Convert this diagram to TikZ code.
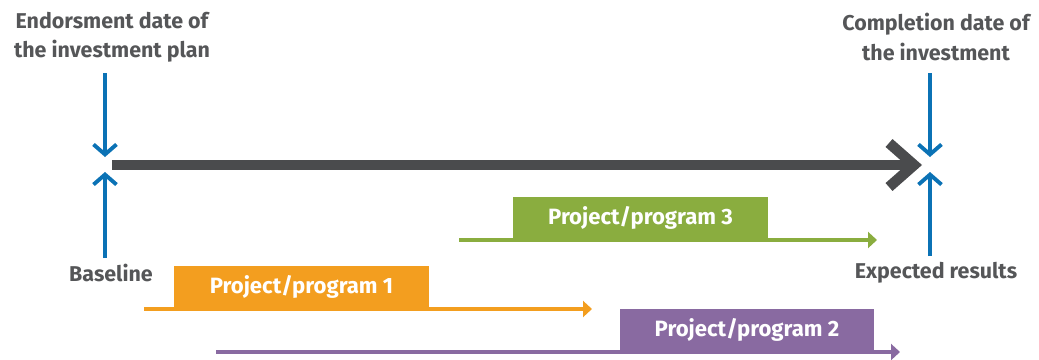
\documentclass[tikz,border=0pt]{standalone}
\usepackage{fontspec}
\setmainfont{Fira Sans}
\usetikzlibrary{arrows.meta}
\definecolor{mblue}{RGB}{11,114,181}
\definecolor{mdark}{RGB}{74,75,77}
\definecolor{mtext}{RGB}{85,86,88}
\definecolor{mgreen}{RGB}{138,173,63}
\definecolor{morange}{RGB}{243,158,31}
\definecolor{mpurple}{RGB}{137,106,161}
\tikzset{
  lbl/.style={text=mtext, font=\bfseries\fontsize{12.2}{16.8}\selectfont, align=center},
  marker/.style={draw=mblue, line width=2.2pt, -{Straight Barb[length=2mm, width=4.6mm]}},
  projbox/.style={minimum width=5.1cm, minimum height=0.86cm, inner sep=0pt,
    text=white, font=\bfseries\fontsize{12.6}{15}\selectfont},
  projline/.style={line width=2.4pt, -{Triangle[length=1.8mm, width=3.2mm]}}
}
\begin{document}
\begin{tikzpicture}[x=0.02cm, y=-0.02cm]
                \useasboundingbox (0,0) rectangle (1039,359);
                % labels
                \node[lbl] (endorse) at (112,37) {Endorsment date of\\the investment plan};
                \node[lbl] (complete) at (936,37) {Completion date of\\the investment};
                \node[lbl] (base) at (111,273) {Baseline};
                \node[lbl] (expect) at (936,273) {Expected results};
                % blue markers
                \coordinate (ltop) at (105,73);
                \coordinate (lhi) at (105,157);
                \coordinate (llo) at (105,172);
                \coordinate (lbot) at (105,258);
                \coordinate (rtop) at (930,73);
                \coordinate (rhi) at (930,157);
                \coordinate (rlo) at (930,172);
                \coordinate (rbot) at (930,256);
                \draw[marker] (ltop) -- (lhi);
                \draw[marker] (lbot) -- (llo);
                \draw[marker] (rtop) -- (rhi);
                \draw[marker] (rbot) -- (rlo);
                % time line
                \coordinate (tstart) at (112,165);
                \coordinate (tend) at (922,165);
                \draw[mdark, line width=6pt, -{Straight Barb[length=5mm, width=8.8mm]}] (tstart) -- (tend);
                % projects
                \coordinate (g0) at (459,240);
                \coordinate (g1) at (877,240);
                \draw[projline, mgreen] (g0) -- (g1);
                \node[projbox, fill=mgreen, anchor=south] (p3) at (640.5,240) {Project/program 3};
                \coordinate (o0) at (144,309);
                \coordinate (o1) at (592,309);
                \draw[projline, morange] (o0) -- (o1);
                \node[projbox, fill=morange, anchor=south] (p1) at (301.5,309) {Project/program 1};
                \coordinate (v0) at (216,352);
                \coordinate (v1) at (900,352);
                \draw[projline, mpurple] (v0) -- (v1);
                \node[projbox, fill=mpurple, anchor=south] (p2) at (747,352) {Project/program 2};
\end{tikzpicture}
\end{document}
